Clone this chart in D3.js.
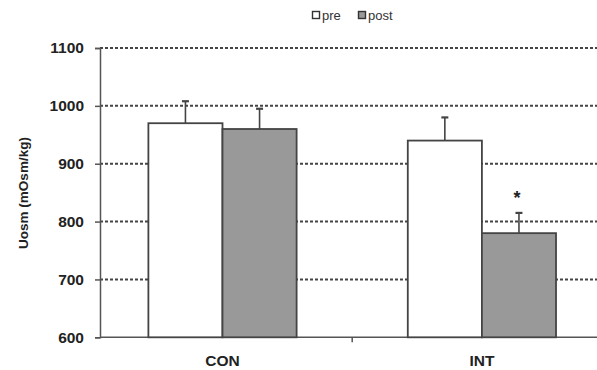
<!DOCTYPE html>
<html>
<head>
<meta charset="utf-8">
<script src="https://cdn.jsdelivr.net/npm/d3@7"></script>
<style>
  body { margin: 0; background: #fff; }
  text { font-family: "Liberation Sans", Arial, sans-serif; }
</style>
</head>
<body>
<div class="container-chart"></div>
<script>
// chart data
var groups = ["CON", "INT"];
var seriesNames = ["pre", "post"];
var seriesColors = ["#ffffff", "#999999"];
var preValues = [970, 940];
var postValues = [960, 780];
var preErrors = [38, 40];
var postErrors = [35, 35];
var yTicks = [600, 700, 800, 900, 1000, 1100];
var significant = [false, true]; // star over post bar

var width = 597;
var height = 370;

var svg = d3.select(".container-chart")
    .append("svg")
    .attr("width", width)
    .attr("height", height);

var y = d3.scaleLinear()
    .domain([600, 1100])
    .range([337.3, 48]);

// category bands (gap width 150% like the original spreadsheet chart)
var x = d3.scaleBand()
    .domain(groups)
    .range([92.8, 611.6]);

var barW = x.bandwidth() / 3.5;
var axisX = 100;

var rows = groups.map(function (g, i) {
    return {
        group: g,
        values: [
            { s: 0, v: preValues[i], e: preErrors[i] },
            { s: 1, v: postValues[i], e: postErrors[i] }
        ],
        star: significant[i]
    };
});

// dashed gridlines
svg.append("g")
    .selectAll("line")
    .data(yTicks.slice(1))
    .enter()
    .append("line")
    .attr("x1", axisX)
    .attr("x2", width)
    .attr("y1", function (d) { return y(d); })
    .attr("y2", function (d) { return y(d); })
    .attr("stroke", "#444")
    .attr("stroke-width", 2)
    .attr("stroke-dasharray", "3,2");

// y axis
var yAxis = svg.append("g")
    .attr("transform", "translate(" + axisX + ",0)")
    .call(d3.axisLeft(y).tickValues(yTicks).tickFormat(d3.format("d")).tickSize(5).tickPadding(11));
yAxis.select(".domain").attr("stroke", "#555").attr("stroke-width", 1.5);
yAxis.selectAll(".tick line").attr("stroke", "#555").attr("stroke-width", 1.5);
yAxis.selectAll(".tick text")
    .attr("font-size", 15.5)
    .attr("font-weight", "bold")
    .attr("fill", "#222")
    .attr("font-family", "Liberation Sans, Arial, sans-serif");

// x axis baseline
svg.append("line")
    .attr("x1", axisX)
    .attr("x2", width)
    .attr("y1", y(600))
    .attr("y2", y(600))
    .attr("stroke", "#555")
    .attr("stroke-width", 1.5);

// tick between categories
svg.append("line")
    .attr("x1", x("INT"))
    .attr("x2", x("INT"))
    .attr("y1", y(600))
    .attr("y2", y(600) + 5)
    .attr("stroke", "#555")
    .attr("stroke-width", 1.5);

svg.append("g")
    .selectAll("text")
    .data(groups)
    .enter()
    .append("text")
    .attr("x", function (d) { return x(d) + x.bandwidth() / 2; })
    .attr("y", 366)
    .attr("text-anchor", "middle")
    .attr("font-size", 15.5)
    .attr("font-weight", "bold")
    .attr("fill", "#222")
    .text(function (d) { return d; });

// bars
var grp = svg.selectAll(".grp")
    .data(rows)
    .enter()
    .append("g")
    .attr("class", "grp")
    .attr("transform", function (d) { return "translate(" + (x(d.group) + x.bandwidth() / 2 - barW) + ",0)"; });

var bar = grp.selectAll(".bar")
    .data(function (d) { return d.values; })
    .enter()
    .append("g")
    .attr("class", "bar");

// error bars (upper only)
bar.append("line")
    .attr("x1", function (d) { return d.s * barW + barW / 2; })
    .attr("x2", function (d) { return d.s * barW + barW / 2; })
    .attr("y1", function (d) { return y(d.v); })
    .attr("y2", function (d) { return y(d.v + d.e); })
    .attr("stroke", "#444")
    .attr("stroke-width", 1.6);
bar.append("line")
    .attr("x1", function (d) { return d.s * barW + barW / 2 - 3.5; })
    .attr("x2", function (d) { return d.s * barW + barW / 2 + 3.5; })
    .attr("y1", function (d) { return y(d.v + d.e); })
    .attr("y2", function (d) { return y(d.v + d.e); })
    .attr("stroke", "#444")
    .attr("stroke-width", 2.2);

bar.append("rect")
    .attr("x", function (d) { return d.s * barW; })
    .attr("y", function (d) { return y(d.v); })
    .attr("width", barW)
    .attr("height", function (d) { return y(600) - y(d.v); })
    .attr("fill", function (d) { return seriesColors[d.s]; })
    .attr("stroke", "#444")
    .attr("stroke-width", 1.8);

// significance star
grp.filter(function (d) { return d.star; })
    .append("text")
    .attr("x", barW * 1.5 - 2)
    .attr("y", function (d) { return y(d.values[1].v + d.values[1].e) - 9; })
    .attr("text-anchor", "middle")
    .attr("font-size", 18)
    .attr("font-weight", "bold")
    .attr("fill", "#222")
    .text("*");

// legend
var legend = svg.append("g")
    .attr("transform", "translate(312,15)");
var legX = [0, 46];
var item = legend.selectAll(".leg")
    .data(seriesNames)
    .enter()
    .append("g")
    .attr("transform", function (d, i) { return "translate(" + legX[i] + ",0)"; });
item.append("rect")
    .attr("x", 0.5)
    .attr("y", -3.5)
    .attr("width", 7)
    .attr("height", 7)
    .attr("fill", function (d, i) { return seriesColors[i]; })
    .attr("stroke", "#333")
    .attr("stroke-width", 1.4);
item.append("text")
    .attr("x", 10)
    .attr("y", 4.5)
    .attr("font-size", 13)
    .attr("fill", "#333")
    .text(function (d) { return d; });

// y title
svg.append("text")
    .attr("transform", "translate(28,193) rotate(-90)")
    .attr("text-anchor", "middle")
    .attr("font-size", 13.5)
    .attr("font-weight", "bold")
    .attr("fill", "#222")
    .text("Uosm (mOsm/kg)");
</script>
</body>
</html>
